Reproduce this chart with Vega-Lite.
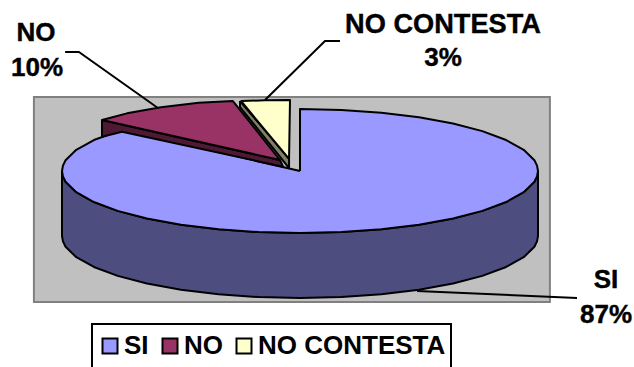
{
  "$schema": "https://vega.github.io/schema/vega-lite/v6.json",
  "width": 634,
  "height": 367,
  "padding": 0,
  "autosize": "none",
  "background": "white",
  "config": {"view": {"stroke": null}, "legend": {"strokeWidth": 2}},
  "datasets": {
    "panel": [{"u1": -1.118, "u2": 1.05, "v1": 1.194, "v2": -2.113}],
    "faces": [
      {"s":"SI","f":"wall","i":1,"u":-1,"v":0},{"s":"SI","f":"wall","i":2,"u":-0.996,"v":-0.087},{"s":"SI","f":"wall","i":3,"u":-0.985,"v":-0.174},{"s":"SI","f":"wall","i":4,"u":-0.94,"v":-0.342},{"s":"SI","f":"wall","i":5,"u":-0.866,"v":-0.5},{"s":"SI","f":"wall","i":6,"u":-0.766,"v":-0.643},{"s":"SI","f":"wall","i":7,"u":-0.643,"v":-0.766},{"s":"SI","f":"wall","i":8,"u":-0.5,"v":-0.866},{"s":"SI","f":"wall","i":9,"u":-0.342,"v":-0.94},{"s":"SI","f":"wall","i":10,"u":-0.174,"v":-0.985},{"s":"SI","f":"wall","i":11,"u":0,"v":-1},{"s":"SI","f":"wall","i":12,"u":0.174,"v":-0.985},{"s":"SI","f":"wall","i":13,"u":0.342,"v":-0.94},{"s":"SI","f":"wall","i":14,"u":0.5,"v":-0.866},{"s":"SI","f":"wall","i":15,"u":0.643,"v":-0.766},{"s":"SI","f":"wall","i":16,"u":0.766,"v":-0.643},{"s":"SI","f":"wall","i":17,"u":0.866,"v":-0.5},{"s":"SI","f":"wall","i":18,"u":0.94,"v":-0.342},{"s":"SI","f":"wall","i":19,"u":0.985,"v":-0.174},{"s":"SI","f":"wall","i":20,"u":0.996,"v":-0.087},{"s":"SI","f":"wall","i":21,"u":1,"v":0},
      {"s":"SI","f":"wall","i":22,"u":1,"v":-1.048},{"s":"SI","f":"wall","i":23,"u":0.996,"v":-1.135},{"s":"SI","f":"wall","i":24,"u":0.985,"v":-1.222},{"s":"SI","f":"wall","i":25,"u":0.94,"v":-1.39},{"s":"SI","f":"wall","i":26,"u":0.866,"v":-1.548},{"s":"SI","f":"wall","i":27,"u":0.766,"v":-1.691},{"s":"SI","f":"wall","i":28,"u":0.643,"v":-1.814},{"s":"SI","f":"wall","i":29,"u":0.5,"v":-1.914},{"s":"SI","f":"wall","i":30,"u":0.342,"v":-1.988},{"s":"SI","f":"wall","i":31,"u":0.174,"v":-2.033},{"s":"SI","f":"wall","i":32,"u":0,"v":-2.048},{"s":"SI","f":"wall","i":33,"u":-0.174,"v":-2.033},{"s":"SI","f":"wall","i":34,"u":-0.342,"v":-1.988},{"s":"SI","f":"wall","i":35,"u":-0.5,"v":-1.914},{"s":"SI","f":"wall","i":36,"u":-0.643,"v":-1.814},{"s":"SI","f":"wall","i":37,"u":-0.766,"v":-1.691},{"s":"SI","f":"wall","i":38,"u":-0.866,"v":-1.548},{"s":"SI","f":"wall","i":39,"u":-0.94,"v":-1.39},{"s":"SI","f":"wall","i":40,"u":-0.985,"v":-1.222},{"s":"SI","f":"wall","i":41,"u":-0.996,"v":-1.135},{"s":"SI","f":"wall","i":42,"u":-1,"v":-1.048},{"s":"SI","f":"wall","i":43,"u":-1,"v":0},

      {"s":"SI","f":"top","i":1,"u":0,"v":0},{"s":"SI","f":"top","i":2,"u":0,"v":1},{"s":"SI","f":"top","i":3,"u":0.174,"v":0.985},{"s":"SI","f":"top","i":4,"u":0.342,"v":0.94},{"s":"SI","f":"top","i":5,"u":0.5,"v":0.866},{"s":"SI","f":"top","i":6,"u":0.643,"v":0.766},{"s":"SI","f":"top","i":7,"u":0.766,"v":0.643},{"s":"SI","f":"top","i":8,"u":0.866,"v":0.5},{"s":"SI","f":"top","i":9,"u":0.94,"v":0.342},{"s":"SI","f":"top","i":10,"u":0.985,"v":0.174},{"s":"SI","f":"top","i":11,"u":0.996,"v":0.087},{"s":"SI","f":"top","i":12,"u":1,"v":0},{"s":"SI","f":"top","i":13,"u":0.996,"v":-0.087},{"s":"SI","f":"top","i":14,"u":0.985,"v":-0.174},{"s":"SI","f":"top","i":15,"u":0.94,"v":-0.342},{"s":"SI","f":"top","i":16,"u":0.866,"v":-0.5},{"s":"SI","f":"top","i":17,"u":0.766,"v":-0.643},{"s":"SI","f":"top","i":18,"u":0.643,"v":-0.766},{"s":"SI","f":"top","i":19,"u":0.5,"v":-0.866},{"s":"SI","f":"top","i":20,"u":0.342,"v":-0.94},{"s":"SI","f":"top","i":21,"u":0.174,"v":-0.985},{"s":"SI","f":"top","i":22,"u":0,"v":-1},{"s":"SI","f":"top","i":23,"u":-0.174,"v":-0.985},{"s":"SI","f":"top","i":24,"u":-0.342,"v":-0.94},{"s":"SI","f":"top","i":25,"u":-0.5,"v":-0.866},{"s":"SI","f":"top","i":26,"u":-0.643,"v":-0.766},{"s":"SI","f":"top","i":27,"u":-0.766,"v":-0.643},{"s":"SI","f":"top","i":28,"u":-0.866,"v":-0.5},{"s":"SI","f":"top","i":29,"u":-0.94,"v":-0.342},{"s":"SI","f":"top","i":30,"u":-0.985,"v":-0.174},{"s":"SI","f":"top","i":31,"u":-0.996,"v":-0.087},{"s":"SI","f":"top","i":32,"u":-1,"v":0},{"s":"SI","f":"top","i":33,"u":-0.996,"v":0.087},{"s":"SI","f":"top","i":34,"u":-0.985,"v":0.174},{"s":"SI","f":"top","i":35,"u":-0.94,"v":0.342},{"s":"SI","f":"top","i":36,"u":-0.866,"v":0.5},{"s":"SI","f":"top","i":37,"u":-0.748,"v":0.664},{"s":"SI","f":"top","i":38,"u":0,"v":0},

      {"s":"NO","f":"side","i":1,"u":-0.832,"v":0.823},{"s":"NO","f":"side","i":2,"u":-0.832,"v":0.553},{"s":"NO","f":"side","i":3,"u":-0.748,"v":0.634},{"s":"NO","f":"side","i":4,"u":-0.071,"v":0.069},{"s":"NO","f":"side","i":5,"u":-0.084,"v":0.177},{"s":"NO","f":"side","i":6,"u":-0.832,"v":0.823},

      {"s":"NO","f":"top","i":1,"u":-0.084,"v":0.177},{"s":"NO","f":"top","i":2,"u":-0.832,"v":0.823},{"s":"NO","f":"top","i":3,"u":-0.727,"v":0.93},{"s":"NO","f":"top","i":4,"u":-0.584,"v":1.03},{"s":"NO","f":"top","i":5,"u":-0.426,"v":1.1},{"s":"NO","f":"top","i":6,"u":-0.282,"v":1.129},{"s":"NO","f":"top","i":7,"u":-0.084,"v":0.177},

      {"s":"NO CONTESTA","f":"side","i":1,"u":-0.252,"v":1.129},{"s":"NO CONTESTA","f":"side","i":2,"u":-0.252,"v":1.032},{"s":"NO CONTESTA","f":"side","i":3,"u":-0.046,"v":0.048},{"s":"NO CONTESTA","f":"side","i":4,"u":-0.046,"v":0.194},{"s":"NO CONTESTA","f":"side","i":5,"u":-0.252,"v":1.129},

      {"s":"NO CONTESTA","f":"top","i":1,"u":-0.248,"v":1.129},{"s":"NO CONTESTA","f":"top","i":2,"u":-0.147,"v":1.14},{"s":"NO CONTESTA","f":"top","i":3,"u":-0.042,"v":1.145},{"s":"NO CONTESTA","f":"top","i":4,"u":-0.046,"v":0.194},{"s":"NO CONTESTA","f":"top","i":5,"u":-0.248,"v":1.129}
    ],
    "leaders": [
      {"s":"NO","i":1,"u":-0.987,"v":1.919},{"s":"NO","i":2,"u":-0.929,"v":1.919},{"s":"NO","i":3,"u":-0.597,"v":1.016},
      {"s":"NO CONTESTA","i":1,"u":0.168,"v":2.097},{"s":"NO CONTESTA","i":2,"u":0.105,"v":2.097},{"s":"NO CONTESTA","i":3,"u":-0.147,"v":1.145},
      {"s":"SI","i":1,"u":1.164,"v":-2.048},{"s":"SI","i":2,"u":0.492,"v":-1.935}
    ],
    "labels": [
      {"t":"NO","u":-1.109,"v":2.226},{"t":"10%","u":-1.105,"v":1.661},
      {"t":"3%","u":0.601,"v":1.823},
      {"t":"SI","u":1.286,"v":-1.758},{"t":"87%","u":1.286,"v":-2.323}
    ],
    "longLabel": [
      {"t":"NO CONTESTA","u":0.601,"v":2.355}
    ]
  },
  "encoding": {
    "x": {"field": "u", "type": "quantitative", "axis": null, "scale": {"domain": [-1.2605, 1.4034], "nice": false, "zero": false}},
    "y": {"field": "v", "type": "quantitative", "axis": null, "scale": {"domain": [-3.161, 2.758], "nice": false, "zero": false}}
  },
  "layer": [
    {
      "data": {"name": "panel"},
      "mark": {"type": "rect", "fill": "#C0C0C0", "stroke": "#808080", "strokeWidth": 2},
      "encoding": {
        "x": {"field": "u1", "type": "quantitative"},
        "x2": {"field": "u2"},
        "y": {"field": "v1", "type": "quantitative"},
        "y2": {"field": "v2"}
      }
    },
    {
      "data": {"name": "faces"},
      "transform": [{"filter": "datum.s === 'SI' && datum.f === 'wall'"}],
      "mark": {"type": "line", "fill": "#4D4D80", "stroke": "#000", "strokeWidth": 2, "strokeJoin": "round"},
      "encoding": {"order": {"field": "i", "type": "quantitative"}}
    },
    {
      "data": {"name": "faces"},
      "transform": [{"filter": "datum.s === 'SI' && datum.f === 'top'"}],
      "mark": {"type": "line", "stroke": "#000", "strokeWidth": 2, "strokeJoin": "round"},
      "encoding": {
        "order": {"field": "i", "type": "quantitative"},
        "fill": {
          "field": "s",
          "type": "nominal",
          "scale": {"domain": ["SI", "NO", "NO CONTESTA"], "range": ["#9999FF", "#993366", "#FFFFCC"]},
          "legend": {
            "orient": "none",
            "legendX": 92,
            "legendY": 324,
            "direction": "horizontal",
            "columns": 3,
            "title": null,
            "symbolType": "square",
            "symbolSize": 225,
            "symbolStrokeColor": "#000",
            "symbolStrokeWidth": 2,
            "labelFont": "Liberation Sans",
            "labelFontWeight": "bold",
            "labelFontSize": 26,
            "labelColor": "#000",
            "labelOffset": 1,
            "labelLimit": 300,
            "labelExpr": "datum.label === 'NO CONTESTA' ? datum.label + '\u00a0' : datum.label",
            "columnPadding": 8,
            "clipHeight": 34,
            "strokeColor": "#000",
            "fillColor": "#FFF",
            "padding": 5
          }
        }
      }
    },
    {
      "data": {"name": "faces"},
      "transform": [{"filter": "datum.s === 'NO' && datum.f === 'side'"}],
      "mark": {"type": "line", "fill": "#4D1933", "stroke": "#000", "strokeWidth": 2, "strokeJoin": "round"},
      "encoding": {"order": {"field": "i", "type": "quantitative"}}
    },
    {
      "data": {"name": "faces"},
      "transform": [{"filter": "datum.s === 'NO CONTESTA' && datum.f === 'side'"}],
      "mark": {"type": "line", "fill": "#808066", "stroke": "#000", "strokeWidth": 2, "strokeJoin": "round"},
      "encoding": {"order": {"field": "i", "type": "quantitative"}}
    },
    {
      "data": {"name": "faces"},
      "transform": [{"filter": "datum.s !== 'SI' && datum.f === 'top'"}],
      "mark": {"type": "line", "stroke": "#000", "strokeWidth": 2, "strokeJoin": "round"},
      "encoding": {
        "order": {"field": "i", "type": "quantitative"},
        "fill": {"field": "s", "type": "nominal"}
      }
    },
    {
      "data": {"name": "leaders"},
      "mark": {"type": "line", "stroke": "#000", "strokeWidth": 2},
      "encoding": {
        "detail": {"field": "s"},
        "order": {"field": "i", "type": "quantitative"}
      }
    },
    {
      "data": {"name": "labels"},
      "mark": {"type": "text", "font": "Liberation Sans", "fontWeight": "bold", "fontSize": 26, "color": "#000", "stroke": "#000", "strokeWidth": 0.4, "align": "center", "baseline": "middle"},
      "encoding": {"text": {"field": "t", "type": "nominal"}}
    },
    {
      "data": {"name": "longLabel"},
      "mark": {"type": "text", "font": "Liberation Sans", "fontWeight": "bold", "fontSize": 27.2, "color": "#000", "stroke": "#000", "strokeWidth": 0.4, "align": "center", "baseline": "middle"},
      "encoding": {"text": {"field": "t", "type": "nominal"}}
    }
  ]
}
